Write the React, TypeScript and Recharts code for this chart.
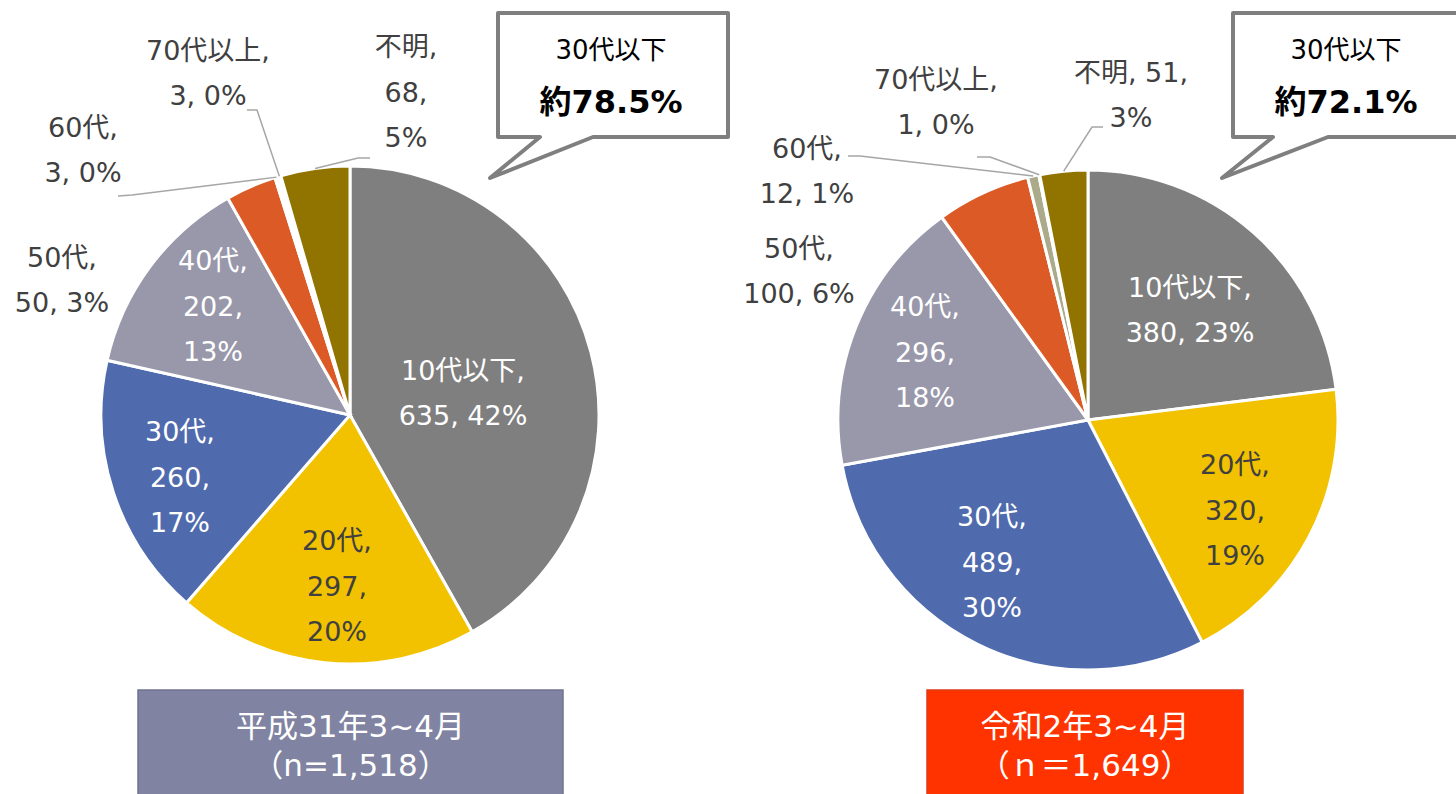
import React from 'react';
import { PieChart, Pie, Cell } from 'recharts';

// ---- data ----
const categories = ['10代以下', '20代', '30代', '40代', '50代', '60代', '70代以上', '不明'];
const valuesH31 = [635, 297, 260, 202, 50, 3, 3, 68];
const percentH31 = ['42%', '20%', '17%', '13%', '3%', '0%', '0%', '5%'];
const valuesR2 = [380, 320, 489, 296, 100, 12, 1, 51];
const percentR2 = ['23%', '19%', '30%', '18%', '6%', '1%', '0%', '3%'];
const titleH31 = ['平成31年3~4月', '（n=1,518）'];
const titleR2 = ['令和2年3~4月', '（ｎ＝1,649）'];
const calloutH31 = ['30代以下', '約78.5%'];
const calloutR2 = ['30代以下', '約72.1%'];

// ---- styles ----
const sliceColors = ['#7F7F7F', '#F2C200', '#4F6BAE', '#9898AA', '#DB5A26', '#ABAA8B', '#C4C3A8', '#917300'];
const labelTextColors = ['#FFFFFF', '#404040', '#FFFFFF', '#FFFFFF', '#404040', '#404040', '#404040', '#404040'];
const FONT = "'DejaVu Sans', 'Noto Sans CJK JP', sans-serif";
const LABEL_SIZE = 27;
const LINE_H = 45.5;
const RADIAN = Math.PI / 180;

type Mode = 'A' | 'B' | 'C';
type LabelLayout = { dx: number; dy: number; mode: Mode; leader?: [number, number][] };

const layoutH31: LabelLayout[] = [
  { dx: 113, dy: -22, mode: 'A' },
  { dx: -13, dy: 171, mode: 'B' },
  { dx: -170, dy: 62, mode: 'B' },
  { dx: -137, dy: -109, mode: 'B' },
  { dx: -288, dy: -135, mode: 'A' },
  { dx: -267, dy: -265, mode: 'A', leader: [[-218, -220], [-232, -219]] },
  { dx: -142, dy: -342, mode: 'A', leader: [[-93, -305], [-103, -305]] },
  { dx: 56, dy: -323, mode: 'B', leader: [[8, -257], [20, -257]] },
];

const layoutR2: LabelLayout[] = [
  { dx: 102, dy: -110, mode: 'A' },
  { dx: 147, dy: 90, mode: 'B' },
  { dx: -96, dy: 142, mode: 'B' },
  { dx: -163, dy: -68, mode: 'B' },
  { dx: -289, dy: -149, mode: 'A' },
  { dx: -281, dy: -249, mode: 'A', leader: [[-228, -264], [-240, -264]] },
  { dx: -152, dy: -318, mode: 'A', leader: [[-98, -263], [-111, -263]] },
  { dx: 43, dy: -325, mode: 'C', leader: [[4, -293], [15, -293]] },
];

const buildData = (values: number[], pcts: string[]) =>
  categories.map((name, i) => ({ name, value: values[i], pct: pcts[i] }));

const dataH31 = buildData(valuesH31, percentH31);
const dataR2 = buildData(valuesR2, percentR2);

const makeLabel = (layout: LabelLayout[]) => (props: any) => {
  const { cx, cy, midAngle, outerRadius, index, payload, name, value } = props;
  const L = layout[index];
  if (!L) return null;
  const nm = (payload && payload.name) || name;
  const pct = payload && payload.pct;
  const v = (payload && payload.value) ?? value;
  let lines: string[];
  if (L.mode === 'A') lines = [`${nm},`, `${v}, ${pct}`];
  else if (L.mode === 'B') lines = [`${nm},`, `${v},`, `${pct}`];
  else lines = [`${nm}, ${v},`, `${pct}`];
  const x = cx + L.dx;
  const y = cy + L.dy;
  const n = lines.length;
  let leader = null;
  if (L.leader) {
    const ex = cx + outerRadius * Math.cos(-midAngle * RADIAN);
    const ey = cy + outerRadius * Math.sin(-midAngle * RADIAN);
    const pts = [[ex, ey], ...L.leader.map(([a, b]) => [cx + a, cy + b])];
    leader = (
      <polyline
        points={pts.map((p) => p.join(',')).join(' ')}
        fill="none"
        stroke="#A6A6A6"
        strokeWidth={1.5}
      />
    );
  }
  return (
    <g>
      {leader}
      <text
        x={x}
        y={y}
        textAnchor="middle"
        fill={labelTextColors[index]}
        fontFamily={FONT}
        fontSize={LABEL_SIZE}
      >
        {lines.map((t, i) => (
          <tspan key={i} x={x} y={y + (i - (n - 1) / 2) * LINE_H} dominantBaseline="central">
            {t}
          </tspan>
        ))}
      </text>
    </g>
  );
};

const Callout = ({ d, cxText, lines }: { d: string; cxText: number; lines: string[] }) => (
  <g>
    <path d={d} fill="#FFFFFF" stroke="#7F7F7F" strokeWidth={4} strokeLinejoin="round" />
    <text x={cxText} y={50} textAnchor="middle" dominantBaseline="central" fontFamily={FONT} fontSize={26} fill="#000">
      {lines[0]}
    </text>
    <text x={cxText} y={102} textAnchor="middle" dominantBaseline="central" fontFamily={FONT} fontSize={32} fontWeight="bold" fill="#000">
      {lines[1]}
    </text>
  </g>
);

const TitleBox = ({ x, w, fill, stroke, lines }: { x: number; w: number; fill: string; stroke: string; lines: string[] }) => (
  <g>
    <rect x={x} y={690} width={w} height={120} fill={fill} stroke={stroke} strokeWidth={1.5} />
    <text x={x + w / 2} y={726} textAnchor="middle" dominantBaseline="central" fontFamily={FONT} fontSize={31} fill="#FFFFFF">
      {lines[0]}
    </text>
    <text x={x + w / 2} y={765} textAnchor="middle" dominantBaseline="central" fontFamily={FONT} fontSize={31} fill="#FFFFFF">
      {lines[1]}
    </text>
  </g>
);

export default function App() {
  return (
    <div style={{ position: 'absolute', left: 0, top: 0, width: 1456, height: 794, background: '#FFFFFF', overflow: 'hidden' }}>
      <PieChart width={1456} height={794} margin={{ top: 0, right: 0, bottom: 0, left: 0 }}>
        <Pie
          data={dataH31}
          dataKey="value"
          nameKey="name"
          cx={350}
          cy={415}
          outerRadius={249}
          startAngle={90}
          endAngle={-270}
          stroke="#FFFFFF"
          strokeWidth={3}
          label={makeLabel(layoutH31)}
          labelLine={false}
          isAnimationActive={false}
        >
          {dataH31.map((d, i) => (
            <Cell key={d.name} fill={sliceColors[i]} />
          ))}
        </Pie>
        <Pie
          data={dataR2}
          dataKey="value"
          nameKey="name"
          cx={1088}
          cy={420}
          outerRadius={250}
          startAngle={90}
          endAngle={-270}
          stroke="#FFFFFF"
          strokeWidth={3}
          label={makeLabel(layoutR2)}
          labelLine={false}
          isAnimationActive={false}
        >
          {dataR2.map((d, i) => (
            <Cell key={d.name} fill={sliceColors[i]} />
          ))}
        </Pie>
      </PieChart>
      <svg
        width={1456}
        height={794}
        style={{ position: 'absolute', left: 0, top: 0, pointerEvents: 'none' }}
      >
        <Callout d="M498,13 H728 V137 H593 L490,178 L540,137 H498 Z" cxText={611} lines={calloutH31} />
        <Callout d="M1233,13 H1470 V137 H1328 L1222,178 L1273,137 H1233 Z" cxText={1346} lines={calloutR2} />
        <TitleBox x={138} w={425} fill="#8083A1" stroke="#70738F" lines={titleH31} />
        <TitleBox x={927} w={316} fill="#FF3300" stroke="#E03A1A" lines={titleR2} />
      </svg>
    </div>
  );
}
